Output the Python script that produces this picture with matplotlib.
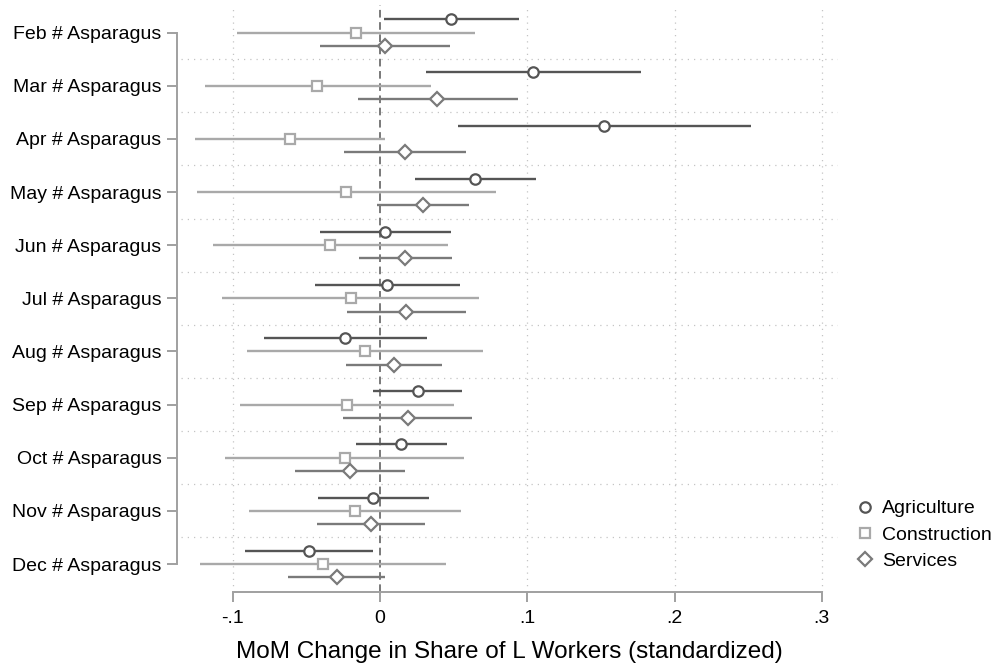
import matplotlib
matplotlib.use("Agg")
import matplotlib.pyplot as plt
from matplotlib.lines import Line2D
import numpy as np

plt.rcParams['font.family'] = ['Liberation Sans', 'DejaVu Sans']

months = ["Feb", "Mar", "Apr", "May", "Jun", "Jul", "Aug", "Sep", "Oct", "Nov", "Dec"]
labels = [f"{m} # Asparagus" for m in months]

# Point estimates and 95% confidence bounds
agri_est = [0.048, 0.104, 0.152, 0.0643, 0.0034, 0.0043, -0.0237, 0.0257, 0.0143, -0.0046, -0.0486]
agri_lo = [0.0026, 0.0314, 0.0526, 0.0237, -0.041, -0.0446, -0.0791, -0.0046, -0.0166, -0.042, -0.092]
agri_hi = [0.094, 0.177, 0.2517, 0.1057, 0.0483, 0.054, 0.032, 0.0557, 0.0457, 0.0329, -0.0049]

cons_est = [-0.0166, -0.0426, -0.0614, -0.0229, -0.034, -0.020, -0.0106, -0.0226, -0.024, -0.0171, -0.0386]
cons_lo = [-0.0974, -0.119, -0.126, -0.1246, -0.1137, -0.1074, -0.0906, -0.0951, -0.1051, -0.0891, -0.1223]
cons_hi = [0.0646, 0.0346, 0.0034, 0.0786, 0.046, 0.0674, 0.070, 0.050, 0.0569, 0.0551, 0.0446]

serv_est = [0.0034, 0.0389, 0.0169, 0.0291, 0.0171, 0.0177, 0.0091, 0.0186, -0.0203, -0.0063, -0.0294]
serv_lo = [-0.041, -0.0154, -0.0243, -0.002, -0.0143, -0.0223, -0.0234, -0.0251, -0.0577, -0.0431, -0.0629]
serv_hi = [0.0477, 0.0937, 0.058, 0.0603, 0.0491, 0.058, 0.042, 0.0623, 0.0166, 0.0303, 0.0031]

xticks = [-0.1, 0, 0.1, 0.2, 0.3]
xticklabels = ["-.1", "0", ".1", ".2", ".3"]

series = [
    ("Agriculture", agri_est, agri_lo, agri_hi, "#555555", "o", 7.5, -0.25),
    ("Construction", cons_est, cons_lo, cons_hi, "#a9a9a9", "s", 7.0, 0.0),
    ("Services", serv_est, serv_lo, serv_hi, "#7a7a7a", "D", 7.0, 0.25),
]

fig = plt.figure(figsize=(9.98, 6.68), dpi=100)
ax = fig.add_axes([181 / 998, 1 - 591.7 / 668, (838 - 181) / 998, (591.7 - 5) / 668])

pos = np.arange(len(months))
handles = []
for name, est, lo, hi, col, mk, ms, off in series:
    y = pos + off
    ax.hlines(y, lo, hi, color=col, lw=1.7, zorder=3)
    ax.plot(est, y, ls="none", marker=mk, ms=ms, mfc="white", mec=col, mew=1.6, zorder=4)
    handles.append(Line2D([], [], ls="none", marker=mk, ms=ms, mfc="white", mec=col, mew=1.6, label=name))

# zero reference line
ax.axvline(0, color="#555555", lw=1.1, ls=(0, (5, 3)), zorder=2)

# dotted grid
for xv in [-0.1, 0.1, 0.2, 0.3]:
    ax.axvline(xv, color="#c4c4c4", lw=0.9, ls=(0, (1, 4)), zorder=1)
for yv in pos[:-1] + 0.5:
    ax.axhline(yv, color="#c4c4c4", lw=0.9, ls=(0, (1, 4)), zorder=1)

ax.set_xlim(-0.1353, 0.311)
ax.set_ylim(10.52, -0.52)

for s in ["top", "right"]:
    ax.spines[s].set_visible(False)
ax.spines["left"].set_position(("outward", 3))
ax.spines["left"].set_bounds(0, 10)
ax.spines["bottom"].set_bounds(-0.1, 0.3)
for s in ["left", "bottom"]:
    ax.spines[s].set_color("#a0a0a0")
    ax.spines[s].set_linewidth(1.4)

ax.set_yticks(pos)
ax.set_yticklabels(labels)
ax.set_xticks(xticks)
ax.set_xticklabels(xticklabels)
ax.set_xlabel("MoM Change in Share of L Workers (standardized)", fontsize=17.5, labelpad=10)

ax.tick_params(axis="both", colors="#a0a0a0", length=7, width=1.4,
               labelcolor="black", labelsize=14)
ax.tick_params(axis="y", pad=4)
ax.tick_params(axis="x", pad=6)

fig.legend(handles=handles, loc="center left", bbox_to_anchor=(857 / 998, 1 - 535 / 668),
           frameon=False, fontsize=14, handlelength=0.8, handletextpad=0.5,
           labelspacing=0.45, borderpad=0, borderaxespad=0)

fig.savefig("out.png", dpi=100)
